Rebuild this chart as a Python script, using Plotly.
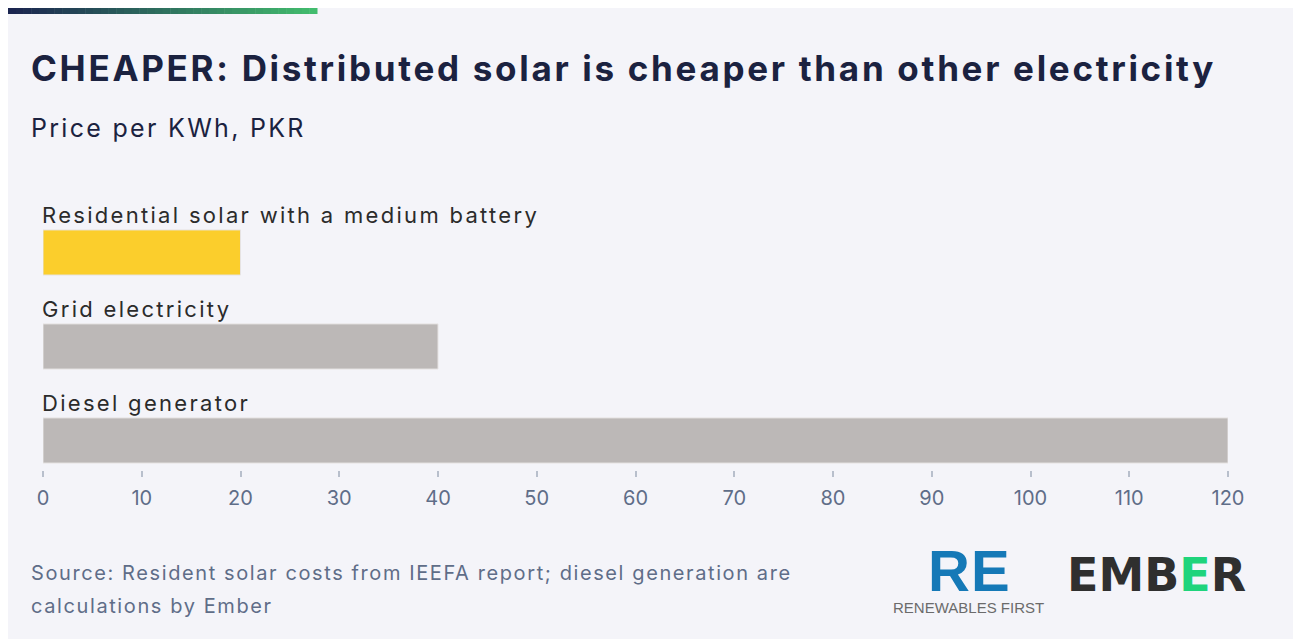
import plotly.graph_objects as go

categories = ["Residential solar with a medium battery", "Grid electricity", "Diesel generator"]
values = [20, 40, 120]
bar_colors = ["#fbce2c", "#bcb8b7", "#bcb8b7"]
x_ticks = [0, 10, 20, 30, 40, 50, 60, 70, 80, 90, 100, 110, 120]

W, H = 1293, 639
L, R, T, B = 43, 65, 180, 169
pw, ph = W - L - R, H - T - B


def px(x):
    return (x - L) / pw


def py(y):
    return 1 - (y - T) / ph


def sp(text, ls):
    return "<span style='letter-spacing:%.2fpx'>%s</span>" % (ls, text)


fig = go.Figure()
fig.add_trace(go.Bar(
    x=values, y=categories, orientation="h",
    marker=dict(color=bar_colors, line=dict(color="#e6e3e3", width=1)),
    width=0.48, hoverinfo="skip",
))

FONT = "Inter"
shapes = []
shapes.append(dict(type="rect", xref="paper", yref="paper", x0=px(8), x1=px(W + 5), y0=py(H + 5), y1=py(8),
                   fillcolor="#f4f4f9", line=dict(width=0), layer="below"))
n = 40
c0 = (27, 37, 80)
c1 = (66, 188, 110)
for i in range(n):
    t = i / (n - 1)
    col = "rgb(%d,%d,%d)" % tuple(int(c0[k] + (c1[k] - c0[k]) * t) for k in range(3))
    xa = 8 + (317 - 8) * i / n
    xb = 8 + (317 - 8) * (i + 1) / n + 0.5
    shapes.append(dict(type="rect", xref="paper", yref="paper", x0=px(xa), x1=px(xb), y0=py(14), y1=py(8),
                       fillcolor=col, line=dict(width=0), layer="below"))

annotations = []
for c in categories:
    annotations.append(dict(x=0, y=c, xref="x", yref="y", text=sp(c, 2.3), showarrow=False,
                            xanchor="left", yanchor="bottom", yshift=22, xshift=-3,
                            font=dict(family=FONT, size=22, color="#2b2b2b")))

annotations += [
    dict(x=px(29), y=py(68), xref="paper", yref="paper", xanchor="left", yanchor="middle", showarrow=False,
         text="<b>" + sp("CHEAPER: Distributed solar is cheaper than other electricity", 2.7) + "</b>",
         font=dict(family=FONT, size=35, color="#1b2240")),
    dict(x=px(29), y=py(128), xref="paper", yref="paper", xanchor="left", yanchor="middle", showarrow=False,
         text=sp("Price per KWh, PKR", 2.3), font=dict(family=FONT, size=25, color="#1b2240")),
    dict(x=px(29), y=py(573), xref="paper", yref="paper", xanchor="left", yanchor="middle", showarrow=False,
         text=sp("Source: Resident solar costs from IEEFA report; diesel generation are", 1.6),
         font=dict(family=FONT, size=20, color="#5f6d88")),
    dict(x=px(29), y=py(606), xref="paper", yref="paper", xanchor="left", yanchor="middle", showarrow=False,
         text=sp("calculations by Ember", 1.6),
         font=dict(family=FONT, size=20, color="#5f6d88")),
    dict(x=px(969), y=py(570), xref="paper", yref="paper", xanchor="center", yanchor="middle", showarrow=False,
         text="<b>" + sp("RE", 1) + "</b>", font=dict(family="Liberation Sans", size=58, color="#1579b7")),
    dict(x=px(968), y=py(607), xref="paper", yref="paper", xanchor="center", yanchor="middle", showarrow=False,
         text="RENEWABLES FIRST", font=dict(family="Liberation Sans", size=15, color="#6b6b6b")),
    dict(x=px(1156), y=py(575), xref="paper", yref="paper", xanchor="center", yanchor="middle", showarrow=False,
         text="<b>EMB<span style='color:#1fd47c'>E</span>R</b>",
         font=dict(family="DejaVu Sans", size=46, color="#2f2f2f")),
]

fig.update_layout(
    width=W, height=H,
    margin=dict(l=L, r=R, t=T, b=B),
    paper_bgcolor="#ffffff", plot_bgcolor="rgba(0,0,0,0)",
    showlegend=False,
    shapes=shapes, annotations=annotations,
    xaxis=dict(range=[0, 120], tickvals=x_ticks, showgrid=False, zeroline=False, showline=False,
               ticks="outside", ticklen=6, tickwidth=2, tickcolor="#b8bfcc", ticklabelstandoff=4,
               tickfont=dict(family=FONT, size=20, color="#5f6d88"), fixedrange=True),
    yaxis=dict(range=[2.314, -0.771], showticklabels=False, showgrid=False, zeroline=False,
               showline=False, fixedrange=True),
)

fig.write_html("out.html")
